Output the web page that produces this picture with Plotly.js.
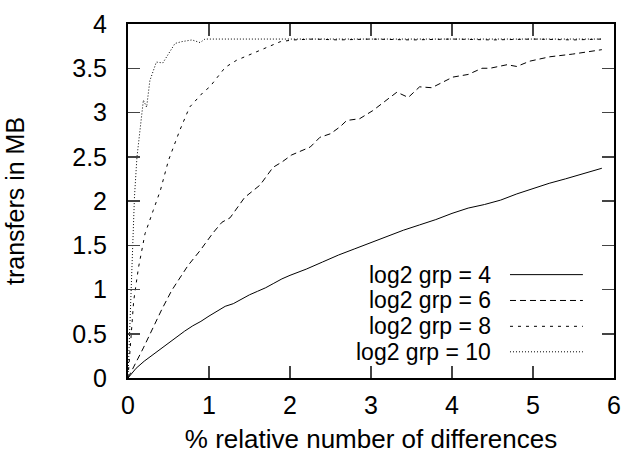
<!DOCTYPE html>
<html>
<head>
<meta charset="utf-8">
<script src="https://cdn.plot.ly/plotly-3.0.1.min.js"></script>
<style>html,body{margin:0;padding:0;background:#fff;}#chart{width:626px;height:454px;}</style>
</head>
<body>
<div id="chart"></div>
<script>
// series names
const seriesNames = ["log2 grp = 4", "log2 grp = 6", "log2 grp = 8", "log2 grp = 10"];

// log2 grp = 4 (solid)
const x4 = [0,0.1,0.2,0.3,0.4,0.5,0.6,0.7,0.8,0.9,1.0,1.1,1.2,1.3,1.4,1.5,1.6,1.7,1.8,1.9,2.0,2.2,2.4,2.6,2.8,3.0,3.2,3.4,3.6,3.8,4.0,4.2,4.4,4.6,4.8,5.0,5.2,5.4,5.6,5.85];
const y4 = [0,0.11,0.19,0.26,0.33,0.39,0.46,0.53,0.59,0.64,0.70,0.76,0.81,0.84,0.89,0.94,0.98,1.02,1.07,1.12,1.16,1.23,1.31,1.39,1.46,1.53,1.60,1.67,1.73,1.79,1.86,1.92,1.96,2.01,2.08,2.14,2.20,2.25,2.30,2.37];

// log2 grp = 6 (dashed)
const x6 = [0,0.19,0.42,0.54,0.74,0.89,1.05,1.16,1.26,1.44,1.63,1.79,1.90,2.02,2.25,2.37,2.50,2.62,2.70,2.86,3.02,3.32,3.46,3.60,3.75,4.01,4.20,4.37,4.47,4.68,4.80,4.96,5.21,5.49,5.85];
const y6 = [0,0.34,0.78,0.99,1.27,1.44,1.64,1.76,1.81,2.04,2.18,2.38,2.44,2.52,2.61,2.72,2.76,2.84,2.91,2.93,3.02,3.23,3.17,3.29,3.28,3.40,3.43,3.50,3.50,3.54,3.52,3.58,3.63,3.66,3.71];

// log2 grp = 8 (short dashes)
const x8 = [0,0.07,0.13,0.21,0.31,0.40,0.50,0.64,0.76,0.93,1.01,1.10,1.20,1.34,1.55,1.71,1.88,2.04,2.29,2.6,3.0,3.5,4.0,4.5,5.0,5.5,5.85];
const y8 = [0,0.87,1.25,1.63,1.89,2.12,2.46,2.80,3.06,3.23,3.29,3.40,3.51,3.59,3.67,3.74,3.80,3.82,3.83,3.82,3.83,3.82,3.83,3.82,3.83,3.82,3.83];

// log2 grp = 10 (dotted)
const x10 = [0,0.02,0.04,0.06,0.08,0.11,0.15,0.19,0.23,0.27,0.35,0.43,0.58,0.66,0.79,0.89,0.95,1.5,2.0,3.0,4.0,5.0,5.85];
const y10 = [0,0.5,1.1,1.6,2.05,2.49,2.83,3.14,3.06,3.36,3.57,3.56,3.78,3.80,3.82,3.79,3.83,3.83,3.83,3.83,3.83,3.83,3.83];

const xTickVals = [0,1,2,3,4,5,6];
const yTickVals = [0,0.5,1,1.5,2,2.5,3,3.5,4];
const yTickText = ["0","0.5","1","1.5","2","2.5","3","3.5","4"];

const xTitle = "% relative number of differences";
const yTitle = "transfers in MB";

const dashes = ["solid", "6px,4px", "3px,5px", "1px,2px"];
const xs = [x4, x6, x8, x10];
const ys = [y4, y6, y8, y10];

const traces = xs.map((x, i) => ({
  x: x, y: ys[i], type: "scatter", mode: "lines", name: seriesNames[i],
  line: {color: "#000", width: 1, dash: dashes[i]}, showlegend: false
}));

const fam = "Liberation Sans, Arial, sans-serif";
const font = {family: fam, size: 25, color: "#000"};

// manual gnuplot-style key (text right-aligned, sample line on its right)
const keyRowsY = [0.292, 0.219, 0.146, 0.074];
const annotations = seriesNames.map((n, i) => ({
  xref: "paper", yref: "paper", x: 0.749, y: keyRowsY[i], xanchor: "right", yanchor: "middle",
  text: n, showarrow: false, borderpad: 0, font: {family: fam, size: 23, color: "#000"}
}));
const shapes = seriesNames.map((n, i) => ({
  type: "line", xref: "paper", yref: "paper", x0: 0.786, x1: 0.936, y0: keyRowsY[i], y1: keyRowsY[i],
  line: {color: "#000", width: 1, dash: dashes[i]}
}));

const layout = {
  width: 626, height: 454,
  margin: {l: 128, r: 12, t: 24, b: 76},
  paper_bgcolor: "#fff", plot_bgcolor: "#fff",
  font: font,
  showlegend: false,
  xaxis: {
    range: [0, 6], tickvals: xTickVals, ticks: "inside", ticklen: 12, tickwidth: 1.5,
    showline: true, linewidth: 2, linecolor: "#000", mirror: "allticks", showgrid: false, zeroline: false,
    tickfont: font, ticklabelstandoff: 4,
    title: {text: xTitle, font: {family: fam, size: 26, color: "#000"}, standoff: 12}
  },
  yaxis: {
    range: [0, 4], tickvals: yTickVals, ticktext: yTickText,
    ticks: "inside", ticklen: 12, tickwidth: 1.5,
    showline: true, linewidth: 2, linecolor: "#000", mirror: "allticks", showgrid: false, zeroline: false,
    tickfont: font, ticklabelstandoff: 14,
    title: {text: yTitle, font: {family: fam, size: 25, color: "#000"}, standoff: 40}
  },
  annotations: annotations,
  shapes: shapes
};

Plotly.newPlot("chart", traces, layout, {displayModeBar: false, staticPlot: true});
</script>
</body>
</html>
